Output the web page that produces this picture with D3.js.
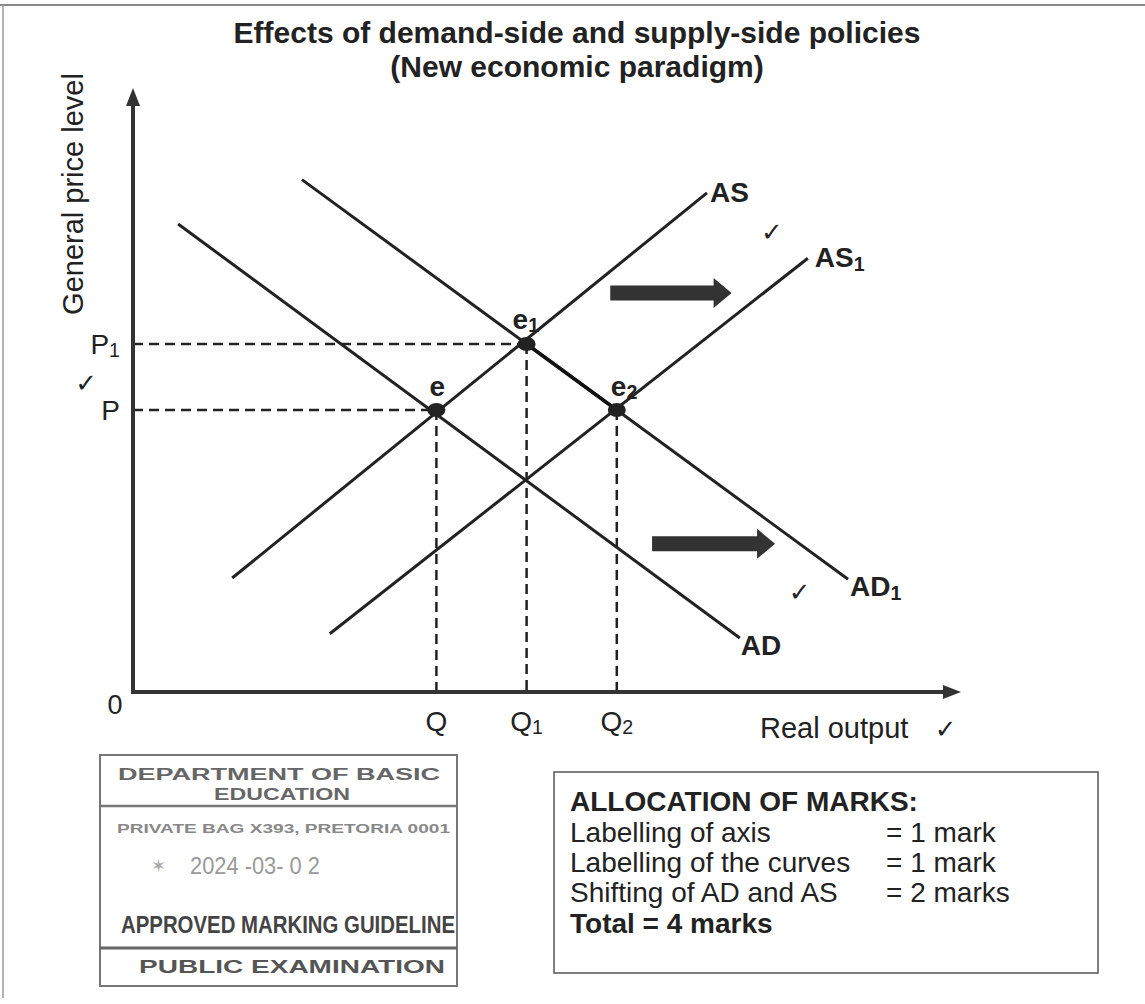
<!DOCTYPE html>
<html>
<head>
<meta charset="utf-8">
<script src="https://cdn.jsdelivr.net/npm/d3@7/dist/d3.min.js"></script>
<style>
  html, body { margin: 0; padding: 0; background: #fff; }
  svg { display: block; font-family: "Liberation Sans", Arial, sans-serif; }
</style>
</head>
<body>
<svg id="chart" width="1145" height="1004"></svg>
<script>
// ---------------- DATA ----------------
const titleLines = ["Effects of demand-side and supply-side policies", "(New economic paradigm)"];
const yAxisLabel = "General price level";
const xAxisLabel = "Real output";

// curves: names, start and end points (output, price level)
const curveNames = ["AD", "AD", "AS", "AS"];
const curveSubs = ["", "1", "", "1"];
const curveStart = [[5.5, 78], [20.6, 85.4], [12.1, 19], [24, 9.7]];
const curveEnd = [[74, 9], [87.2, 18.8], [70, 83.2], [82.3, 72.3]];

// equilibrium points
const eqNames = ["e", "e", "e"];
const eqSubs = ["", "1", "2"];
const eqX = [37, 48, 59];
const eqY = [47, 58, 47];

// tick labels
const qLabels = ["Q", "Q", "Q"];
const qSubs = ["", "1", "2"];
const qValues = [37, 48, 59];
const pLabels = ["P", "P"];
const pSubs = ["", "1"];
const pValues = [47, 58];

// shift arrows (from, to)
const arrowFrom = [[58.2, 66.5], [63.3, 24.7]];
const arrowTo = [[73.0, 66.5], [78.3, 24.7]];

// check marks (marker ticks)
const checkX = [77.9, -5.7, 81.3, 99.1];
const checkY = [76.7, 51.5, 16.7, -6.2];

// allocation of marks
const marksTitle = "ALLOCATION OF MARKS:";
const marksItems = ["Labelling of axis", "Labelling of the curves", "Shifting of AD and AS"];
const marksValues = ["= 1 mark", "= 1 mark", "= 2 marks"];
const marksTotal = "Total = 4 marks";

// stamp texts
const stampLines = ["DEPARTMENT OF BASIC", "EDUCATION", "PRIVATE BAG X393, PRETORIA 0001", "2024 -03- 0 2", "APPROVED MARKING GUIDELINE", "PUBLIC EXAMINATION"];

// ---------------- DRAW ----------------
const svg = d3.select("#chart");
const x = d3.scaleLinear().domain([0, 100]).range([133, 953]);
const y = d3.scaleLinear().domain([0, 100]).range([692, 92]);
const INK = "#222";

// outer frame (top & left edges of the scanned page)
svg.append("line").attr("x1", 0).attr("x2", 1145).attr("y1", 5).attr("y2", 5).attr("stroke", "#888").attr("stroke-width", 2);
svg.append("line").attr("x1", 3).attr("x2", 3).attr("y1", 5).attr("y2", 998).attr("stroke", "#999").attr("stroke-width", 1.5);

// title
svg.selectAll("text.title").data(titleLines).join("text")
  .attr("class", "title")
  .attr("x", 577).attr("y", (d, i) => 43 + i * 34)
  .attr("text-anchor", "middle")
  .attr("font-size", 30).attr("font-weight", "bold").attr("fill", INK)
  .text(d => d);

function subText(sel, main, sub, size, weight) {
  sel.attr("font-size", size).attr("font-weight", weight).attr("fill", INK);
  sel.append("tspan").text(main);
  if (sub) sel.append("tspan").attr("font-size", size * 0.7).attr("dy", size * 0.12).text(sub);
}

// dashed guides
const dash = svg.append("g").attr("stroke", INK).attr("stroke-width", 2.5).attr("stroke-dasharray", "10,6").attr("fill", "none");
eqX.forEach((ex, i) => {
  dash.append("line").attr("x1", x(ex)).attr("x2", x(ex)).attr("y1", y(eqY[i])).attr("y2", y(0));
});
pValues.forEach((pv, i) => {
  const ex = eqX[eqY.indexOf(pv)];
  dash.append("line").attr("x1", x(0)).attr("x2", x(ex)).attr("y1", y(pv)).attr("y2", y(pv));
});

// curves
const lineGen = d3.line().x(d => x(d[0])).y(d => y(d[1]));
curveNames.forEach((n, i) => {
  svg.append("path").attr("d", lineGen([curveStart[i], curveEnd[i]]))
    .attr("stroke", INK).attr("stroke-width", 3).attr("fill", "none");
});

// segment e1 -> e2
svg.append("path").attr("d", lineGen([[eqX[1], eqY[1]], [eqX[2], eqY[2]]]))
  .attr("stroke", "#111").attr("stroke-width", 3.5).attr("fill", "none");

// curve labels
const labelOffsets = [[1, 17], [2, 17], [3, 9], [7, 9]];
curveNames.forEach((n, i) => {
  const t = svg.append("text")
    .attr("x", x(curveEnd[i][0]) + labelOffsets[i][0])
    .attr("y", y(curveEnd[i][1]) + labelOffsets[i][1]);
  subText(t, n, curveSubs[i], 28, "bold");
});

// equilibrium dots
eqX.forEach((ex, i) => {
  svg.append("ellipse").attr("cx", x(ex)).attr("cy", y(eqY[i])).attr("rx", 9).attr("ry", 7).attr("fill", "#222");
});
const eqLabelOff = [[-7, -14], [-14, -15], [-6, -14]];
eqX.forEach((ex, i) => {
  const t = svg.append("text").attr("x", x(ex) + eqLabelOff[i][0]).attr("y", y(eqY[i]) + eqLabelOff[i][1]);
  subText(t, eqNames[i], eqSubs[i], 28, "bold");
});

// shift arrows
arrowFrom.forEach((f, i) => {
  const x0 = x(f[0]), x1 = x(arrowTo[i][0]), yy = y(f[1]);
  const hl = 18, bw = 7.5, hw = 15;
  const pts = [[x0, yy - bw], [x1 - hl, yy - bw], [x1 - hl, yy - hw], [x1, yy], [x1 - hl, yy + hw], [x1 - hl, yy + bw], [x0, yy + bw]];
  svg.append("path").attr("d", "M" + pts.map(p => p.join(",")).join("L") + "Z").attr("fill", "#333");
});

// axes
const axisG = svg.append("g").attr("stroke", "#333").attr("stroke-width", 4).attr("fill", "none");
axisG.append("line").attr("x1", x(0)).attr("x2", x(0)).attr("y1", y(0) + 2).attr("y2", y(100) + 4);
axisG.append("line").attr("x1", x(0) - 2).attr("x2", x(100)).attr("y1", y(0)).attr("y2", y(0));
svg.append("path").attr("d", `M${x(0)},${y(100) - 4}L${x(0) - 7},${y(100) + 14}L${x(0) + 7},${y(100) + 14}Z`).attr("fill", "#333");
svg.append("path").attr("d", `M${x(100) + 8},${y(0)}L${x(100) - 10},${y(0) - 7}L${x(100) - 10},${y(0) + 7}Z`).attr("fill", "#333");

// tick labels
qValues.forEach((q, i) => {
  const t = svg.append("text").attr("x", x(q)).attr("y", y(0) + 39).attr("text-anchor", "middle");
  subText(t, qLabels[i], qSubs[i], 28, "normal");
});
pValues.forEach((p, i) => {
  const t = svg.append("text").attr("x", x(0) - 13).attr("y", y(p) + 10).attr("text-anchor", "end");
  subText(t, pLabels[i], pSubs[i], 28, "normal");
});
svg.append("text").attr("x", x(0) - 18).attr("y", y(0) + 22).attr("text-anchor", "middle")
  .attr("font-size", 27).attr("fill", INK).text("0");

// axis labels
svg.append("text").attr("transform", `translate(${x(0) - 50},${y(83)}) rotate(-90)`)
  .attr("text-anchor", "middle").attr("font-size", 29).attr("fill", INK).text(yAxisLabel);
svg.append("text").attr("x", 760).attr("y", y(0) + 46).attr("font-size", 29).attr("fill", INK).text(xAxisLabel);

// check marks
checkX.forEach((cx, i) => {
  svg.append("text").attr("x", x(cx)).attr("y", y(checkY[i]) + 9).attr("text-anchor", "middle")
    .attr("font-family", "DejaVu Sans").attr("font-size", 26).attr("fill", INK).text("\u2713");
});

// allocation of marks box
const mb = svg.append("g");
mb.append("rect").attr("x", 554).attr("y", 772).attr("width", 544).attr("height", 201)
  .attr("fill", "#fff").attr("stroke", "#555").attr("stroke-width", 1.5);
mb.append("text").attr("x", 570).attr("y", 811).attr("font-size", 28).attr("font-weight", "bold").attr("fill", INK).text(marksTitle);
marksItems.forEach((m, i) => {
  mb.append("text").attr("x", 570).attr("y", 842 + i * 30).attr("font-size", 28).attr("fill", INK).text(m);
  mb.append("text").attr("x", 886).attr("y", 842 + i * 30).attr("font-size", 28).attr("fill", INK).text(marksValues[i]);
});
mb.append("text").attr("x", 570).attr("y", 933).attr("font-size", 28).attr("font-weight", "bold").attr("fill", INK).text(marksTotal);

// stamp
const st = svg.append("g");
st.append("rect").attr("x", 100).attr("y", 755).attr("width", 357).attr("height", 231)
  .attr("fill", "none").attr("stroke", "#777").attr("stroke-width", 2);
st.append("line").attr("x1", 100).attr("x2", 457).attr("y1", 806).attr("y2", 806).attr("stroke", "#777").attr("stroke-width", 2.5);
st.append("line").attr("x1", 100).attr("x2", 457).attr("y1", 948).attr("y2", 948).attr("stroke", "#666").attr("stroke-width", 3);
const stampY = [780, 800, 833, 874, 933, 973];
const stampX = [[118, 440], [214, 350], [117, 450], [190, 320], [121, 455], [139, 445]];
const stampSize = [16, 16, 13, 24, 23, 19];
const stampFill = ["#666", "#666", "#888", "#999", "#444", "#555"];
const stampWeight = ["bold", "bold", "bold", "normal", "bold", "bold"];
stampLines.forEach((s, i) => {
  st.append("text").attr("x", stampX[i][0]).attr("y", stampY[i])
    .attr("textLength", stampX[i][1] - stampX[i][0]).attr("lengthAdjust", "spacingAndGlyphs")
    .attr("font-size", stampSize[i]).attr("font-weight", stampWeight[i]).attr("fill", stampFill[i])
    .text(s);
});
st.append("text").attr("x", 158).attr("y", 872).attr("text-anchor", "middle")
  .attr("font-size", 18).attr("fill", "#aaa").text("\u2736");
</script>
</body>
</html>
